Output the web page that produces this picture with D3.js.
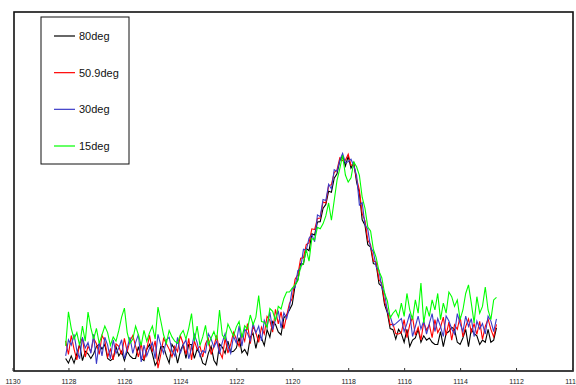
<!DOCTYPE html>
<html lang="en">

<head>
    <meta charset="UTF-8">
    <script src="https://cdn.jsdelivr.net/npm/d3@7/dist/d3.min.js"></script>
    <title>XPS</title>
    <style>
        body { margin: 0; background: #fff; }
        text { font-family: Arial, 'Liberation Sans', sans-serif; }
    </style>
</head>

<body>
    <svg id="mainsvg" width="576" height="385"></svg>
    <script>
        // binding energy grid: 1128.1 down to 1112.7, step 0.1
        const xStart = 1128.1
        const xStep = 0.1
        const xTicks = [1130, 1128, 1126, 1124, 1122, 1120, 1118, 1116, 1114, 1112, 1110]
        const seriesNames = ['80deg', '50.9deg', '30deg', '15deg']
        const seriesColors = ['#000000', '#ff0000', '#3c3cc8', '#00ff00']

        const deg80 = [
            3.5, 2.2, 4.2, 2.2, 4.8, 7.4, 2.9, 5.5, 4.8, 3.5,
            4.8, 6.8, 7.4, 6.1, 7.4, 3.5, 2.9, 3.5, 6.8, 4.2,
            5.5, 2.9, 5.5, 4.2, 3.5, 3.5, 6.8, 3.5, 2.9, 6.1,
            7.4, 4.8, 1.6, 2.9, 6.8, 6.8, 4.2, 2.2, 7.4, 6.1,
            2.2, 5.5, 7.4, 3.5, 7.4, 7.4, 3.5, 6.1, 4.8, 2.2,
            1.7, 4.9, 6.9, 3.0, 1.7, 7.5, 6.6, 4.9, 8.3, 5.3,
            5.5, 6.4, 9.3, 5.1, 6.0, 4.5, 9.4, 10.5, 6.3, 10.0,
            9.2, 7.1, 11.5, 9.4, 13.8, 13.0, 10.9, 10.1, 14.8, 15.6,
            17.0, 18.6, 23.8, 25.4, 29.9, 29.8, 34.1, 33.5, 38.2, 37.9,
            41.5, 41.6, 45.3, 46.4, 50.1, 49.8, 53.7, 54.9, 58.6, 60.0,
            57.1, 59.8, 56.5, 58.0, 52.6, 49.5, 42.1, 40.6, 35.2, 34.5,
            29.9, 29.7, 24.3, 23.6, 18.5, 16.2, 11.8, 11.5, 8.9, 11.6,
            10.4, 8.0, 11.6, 6.8, 8.6, 9.2, 11.6, 8.0, 9.8, 8.6,
            9.2, 8.0, 7.4, 7.4, 11.0, 6.8, 10.4, 11.0, 12.2, 11.6,
            8.0, 7.4, 9.2, 11.6, 6.8, 11.6, 10.4, 9.8, 7.4, 8.6,
            8.0, 11.6, 8.0, 8.6, 12.0
        ]
        const deg509 = [
            8.4, 4.6, 9.9, 6.1, 3.1, 7.6, 9.1, 3.9, 6.9, 5.4,
            9.1, 7.6, 4.6, 9.9, 8.4, 3.9, 6.1, 3.1, 7.6, 6.9,
            4.6, 9.1, 5.4, 8.4, 9.9, 6.9, 3.9, 7.6, 3.1, 6.1,
            9.9, 5.4, 8.4, 0.8, 4.6, 9.1, 7.6, 6.1, 3.9, 6.9,
            5.4, 9.9, 7.6, 4.6, 9.1, 3.1, 8.4, 6.1, 6.9, 3.9,
            7.6, 9.1, 4.6, 6.9, 9.9, 5.4, 3.6, 9.2, 5.0, 7.5,
            10.8, 8.9, 6.9, 10.2, 8.3, 13.2, 7.6, 12.5, 10.6, 8.0,
            12.2, 10.3, 15.2, 14.1, 10.8, 17.2, 13.1, 16.5, 11.8, 15.4,
            18.8, 20.2, 25.6, 26.8, 31.4, 31.5, 35.2, 35.7, 39.6, 39.4,
            42.5, 42.6, 47.1, 46.8, 51.6, 51.9, 55.3, 56.0, 59.4, 58.6,
            58.7, 60.4, 57.3, 57.5, 53.6, 50.4, 43.8, 41.9, 36.4, 35.2,
            30.6, 30.4, 25.5, 24.4, 19.2, 17.0, 12.8, 13.1, 10.4, 10.3,
            10.7, 14.3, 9.3, 12.9, 15.0, 10.0, 12.2, 8.6, 13.6, 11.4,
            12.9, 9.3, 14.3, 10.7, 12.2, 15.0, 10.0, 13.6, 8.6, 12.9,
            11.6, 15.2, 9.5, 12.4, 14.5, 10.9, 13.1, 10.2, 13.8, 8.8,
            12.4, 14.5, 11.6, 9.5, 13.0
        ]
        const deg30 = [
            4.2, 8.7, 7.2, 10.2, 5.7, 3.4, 9.4, 6.4, 7.9, 4.9,
            10.2, 2.0, 7.9, 4.2, 9.4, 7.2, 3.4, 8.7, 4.9, 6.4,
            8.7, 3.4, 6.4, 9.4, 4.9, 7.9, 10.2, 2.5, 7.2, 4.2,
            6.4, 7.9, 3.4, 10.2, 7.2, 4.9, 8.7, 9.4, 5.7, 4.2,
            9.4, 4.9, 7.2, 8.7, 3.4, 6.4, 10.2, 7.9, 4.2, 5.7,
            5.1, 10.4, 8.9, 6.6, 8.3, 4.8, 8.0, 10.4, 6.9, 4.9,
            9.7, 7.8, 12.6, 6.9, 11.7, 10.5, 8.5, 13.3, 10.6, 12.5,
            8.4, 14.1, 12.2, 16.4, 11.5, 14.2, 16.8, 12.0, 16.2, 14.6,
            17.8, 22.9, 23.2, 28.0, 28.6, 33.9, 33.6, 37.0, 38.0, 36.0,
            43.5, 43.0, 47.8, 47.5, 52.0, 50.7, 56.1, 55.6, 58.7, 60.6,
            58.0, 58.3, 59.0, 57.1, 54.5, 46.2, 46.9, 40.7, 39.5, 34.3,
            33.2, 29.0, 28.1, 23.3, 21.8, 16.4, 15.3, 12.6, 13.2, 13.9,
            14.6, 11.0, 13.2, 16.0, 9.6, 12.4, 15.3, 11.7, 13.9, 10.3,
            13.2, 16.0, 11.0, 14.6, 12.4, 9.6, 15.3, 13.9, 11.7, 10.3,
            16.0, 13.2, 11.0, 15.3, 12.4, 14.6, 9.6, 13.9, 11.7, 13.2,
            10.3, 15.3, 13.9, 11.0, 14.5
        ]
        const deg15 = [
            7.0, 16.5, 11.9, 8.9, 10.7, 7.1, 12.5, 8.3, 16.4, 12.0,
            8.9, 11.9, 7.7, 10.1, 12.5, 10.7, 7.1, 9.5, 8.3, 11.3,
            15.0, 17.5, 10.7, 7.7, 8.9, 12.5, 10.1, 7.1, 11.3, 8.3,
            10.7, 12.5, 8.9, 17.8, 14.0, 10.1, 7.7, 11.3, 9.5, 8.3,
            7.7, 10.1, 11.3, 8.9, 11.9, 16.0, 8.3, 12.5, 7.1, 9.5,
            12.7, 7.3, 9.2, 11.0, 8.6, 17.0, 10.0, 8.9, 13.1, 11.4,
            9.7, 12.3, 13.8, 9.3, 12.6, 11.7, 15.6, 12.9, 15.0, 21.0,
            13.8, 13.6, 12.2, 17.4, 16.6, 14.0, 18.0, 17.3, 20.2, 22.0,
            22.0, 23.1, 24.0, 25.2, 29.1, 30.0, 33.8, 30.6, 36.9, 36.5,
            40.0, 39.6, 41.0, 43.2, 46.8, 42.0, 47.5, 53.1, 56.4, 60.1,
            54.6, 52.6, 53.8, 58.2, 56.9, 54.5, 48.4, 45.3, 40.1, 39.0,
            33.9, 31.6, 27.8, 26.0, 21.7, 19.5, 14.8, 16.1, 17.0, 15.0,
            18.9, 15.2, 21.6, 17.0, 14.3, 19.8, 16.1, 24.5, 13.4, 18.0,
            15.2, 19.8, 17.0, 21.6, 14.3, 18.9, 16.1, 22.0, 20.7, 18.0,
            19.8, 14.3, 17.0, 21.6, 24.0, 18.9, 13.4, 20.7, 16.1, 18.0,
            23.4, 17.0, 14.3, 19.8, 20.5
        ]
        const seriesValues = [deg80, deg509, deg30, deg15]

        const svg = d3.select('#mainsvg')
        const plot = { left: 14, right: 573, top: 12, bottom: 371 }

        const xScale = d3.scaleLinear()
            .domain([1130, 1110])
            .range([12.5, 572])
        const yScale = d3.scaleLinear()
            .domain([0, 100])
            .range([plot.bottom, plot.top])

        const g = svg.append('g').attr('id', 'maingroup')

        const line = d3.line()
            .x((d, i) => xScale(xStart - i * xStep))
            .y(d => yScale(d))

        seriesValues.forEach((vals, k) => {
            g.append('path')
                .datum(vals)
                .attr('d', line)
                .attr('fill', 'none')
                .attr('stroke', seriesColors[k])
                .attr('stroke-width', 1.1)
        })

        // frame
        svg.append('rect')
            .attr('x', plot.left).attr('y', plot.top)
            .attr('width', plot.right - plot.left)
            .attr('height', plot.bottom - plot.top)
            .attr('fill', 'none')
            .attr('stroke', '#111')
            .attr('stroke-width', 1.6)

        // bottom axis: inner ticks, small labels (last one runs off the page, as in the original)
        const xAxis = d3.axisBottom(xScale)
            .tickValues(xTicks)
            .tickSizeInner(-3)
            .tickSizeOuter(0)
            .tickPadding(8)
            .tickFormat(d3.format('d'))
        const ax = svg.append('g')
            .attr('transform', `translate(0,${plot.bottom})`)
            .call(xAxis)
        ax.select('.domain').remove()
        ax.selectAll('.tick line').attr('stroke', '#333')
        ax.selectAll('.tick text')
            .attr('font-size', '7px')
            .attr('fill', '#222')
            .attr('font-family', 'Arial, Liberation Sans, sans-serif')

        // legend
        const legend = svg.append('g')
        legend.append('rect')
            .attr('x', 41).attr('y', 17)
            .attr('width', 88).attr('height', 147)
            .attr('fill', '#fff')
            .attr('stroke', '#111')
            .attr('stroke-width', 1)
        const rowY = d3.scalePoint()
            .domain(seriesNames)
            .range([36, 146])
        seriesNames.forEach((name, k) => {
            legend.append('line')
                .attr('x1', 54).attr('x2', 75)
                .attr('y1', rowY(name)).attr('y2', rowY(name))
                .attr('stroke', seriesColors[k])
                .attr('stroke-width', 1.2)
            legend.append('text')
                .text(name)
                .attr('x', 79)
                .attr('y', rowY(name))
                .attr('dy', '0.35em')
                .attr('font-size', '11px')
                .attr('fill', '#111')
        })
    </script>
</body>

</html>
